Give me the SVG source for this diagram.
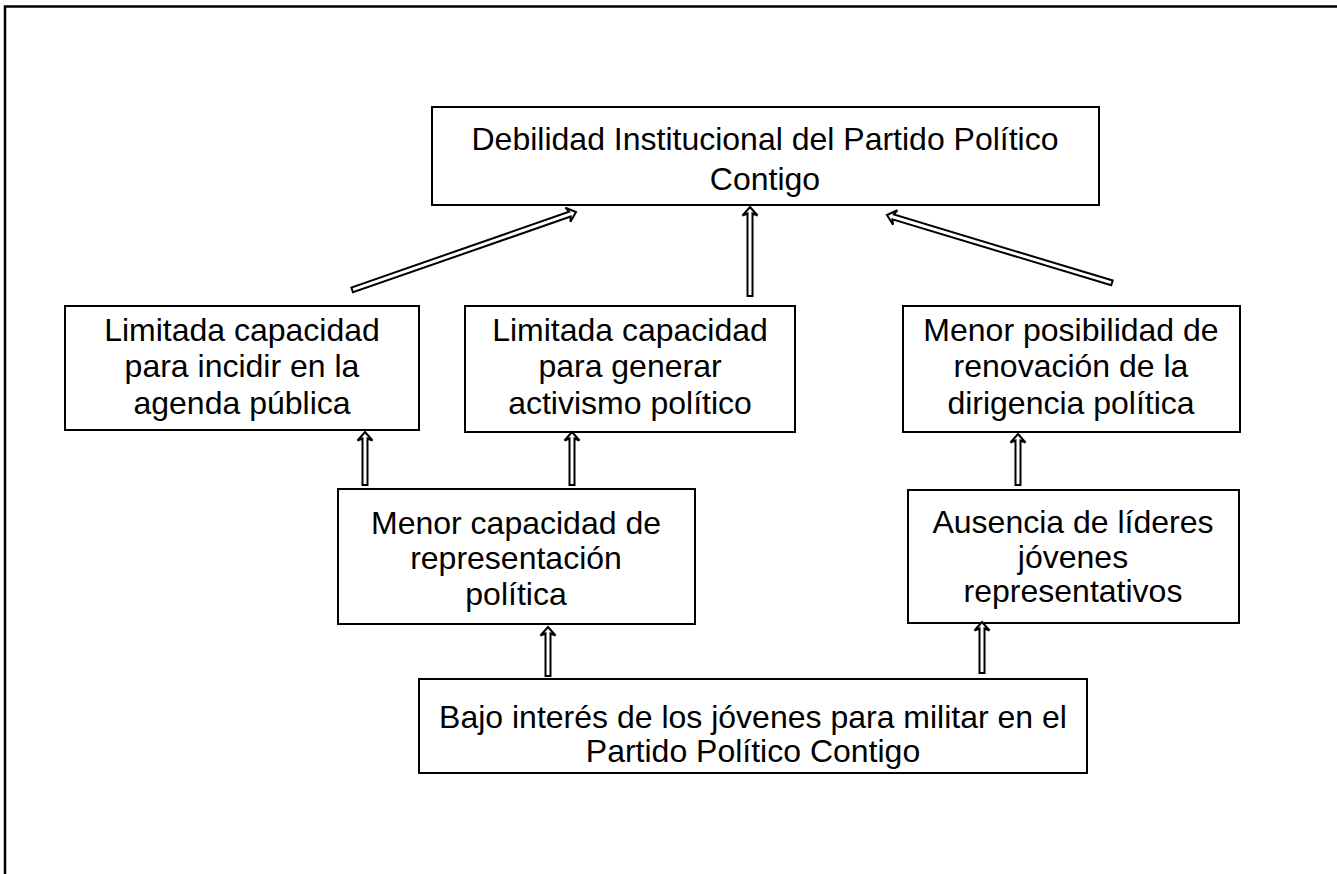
<svg xmlns="http://www.w3.org/2000/svg" width="1337" height="874" viewBox="0 0 1337 874">
<style>
.box{fill:#fff;stroke:#000;stroke-width:2}
.t{font-family:"Liberation Sans",Arial,sans-serif;font-size:32px;fill:#000;text-anchor:middle}
.arr{fill:#fff;stroke:#000;stroke-width:2;stroke-linejoin:miter}
.frame{fill:none;stroke:#000;stroke-width:2.5}
</style>
<rect width="1337" height="874" fill="#fff"/>
<path class="frame" d="M5,874 L5,6.5 L1337,6.5"/>
<g id="n-top"><rect class="box" x="432" y="107" width="667" height="98"/>
<text class="t" x="765" y="150">Debilidad Institucional del Partido Político</text>
<text class="t" x="765" y="190">Contigo</text></g>
<g id="n-left"><rect class="box" x="65" y="306" width="354" height="124"/>
<text class="t" x="242" y="341">Limitada capacidad</text>
<text class="t" x="242" y="377">para incidir en la</text>
<text class="t" x="242" y="414">agenda pública</text></g>
<g id="n-mid"><rect class="box" x="465" y="306" width="330" height="126"/>
<text class="t" x="630" y="341">Limitada capacidad</text>
<text class="t" x="630" y="377">para generar</text>
<text class="t" x="630" y="414">activismo político</text></g>
<g id="n-right"><rect class="box" x="903" y="306" width="337" height="126"/>
<text class="t" x="1071" y="341">Menor posibilidad de</text>
<text class="t" x="1071" y="377">renovación de la</text>
<text class="t" x="1071" y="414">dirigencia política</text></g>
<g id="n-repr"><rect class="box" x="338" y="489" width="357" height="135"/>
<text class="t" x="516" y="534">Menor capacidad de</text>
<text class="t" x="516" y="569">representación</text>
<text class="t" x="516" y="605">política</text></g>
<g id="n-lideres"><rect class="box" x="908" y="490" width="331" height="133"/>
<text class="t" x="1073" y="533">Ausencia de líderes</text>
<text class="t" x="1073" y="568">jóvenes</text>
<text class="t" x="1073" y="602">representativos</text></g>
<g id="n-bottom"><rect class="box" x="419" y="679" width="668" height="94"/>
<text class="t" x="753" y="728">Bajo interés de los jóvenes para militar en el</text>
<text class="t" x="753" y="762">Partido Político Contigo</text></g>
<g id="connectors">
<path class="arr" transform="translate(576,212) rotate(70.8)" d="M0,0 L7.5,8.5 L2.5,6.5 L2.5,237 L-2.5,237 L-2.5,6.5 L-7.5,8.5 Z"/>
<path class="arr" transform="translate(750,207)" d="M0,0 L7.5,8.5 L2.5,6.5 L2.5,89 L-2.5,89 L-2.5,6.5 L-7.5,8.5 Z"/>
<path class="arr" transform="translate(887,215) rotate(-73.2)" d="M0,0 L7.5,8.5 L2.5,6.5 L2.5,235 L-2.5,235 L-2.5,6.5 L-7.5,8.5 Z"/>
<path class="arr" transform="translate(365,432)" d="M0,0 L7.5,8.5 L2.5,6.5 L2.5,53 L-2.5,53 L-2.5,6.5 L-7.5,8.5 Z"/>
<path class="arr" transform="translate(572,432)" d="M0,0 L7.5,8.5 L2.5,6.5 L2.5,53 L-2.5,53 L-2.5,6.5 L-7.5,8.5 Z"/>
<path class="arr" transform="translate(1018,434)" d="M0,0 L7.5,8.5 L2.5,6.5 L2.5,51 L-2.5,51 L-2.5,6.5 L-7.5,8.5 Z"/>
<path class="arr" transform="translate(548,627)" d="M0,0 L7.5,8.5 L2.5,6.5 L2.5,49 L-2.5,49 L-2.5,6.5 L-7.5,8.5 Z"/>
<path class="arr" transform="translate(982,622)" d="M0,0 L7.5,8.5 L2.5,6.5 L2.5,51 L-2.5,51 L-2.5,6.5 L-7.5,8.5 Z"/>
</g>
</svg>
